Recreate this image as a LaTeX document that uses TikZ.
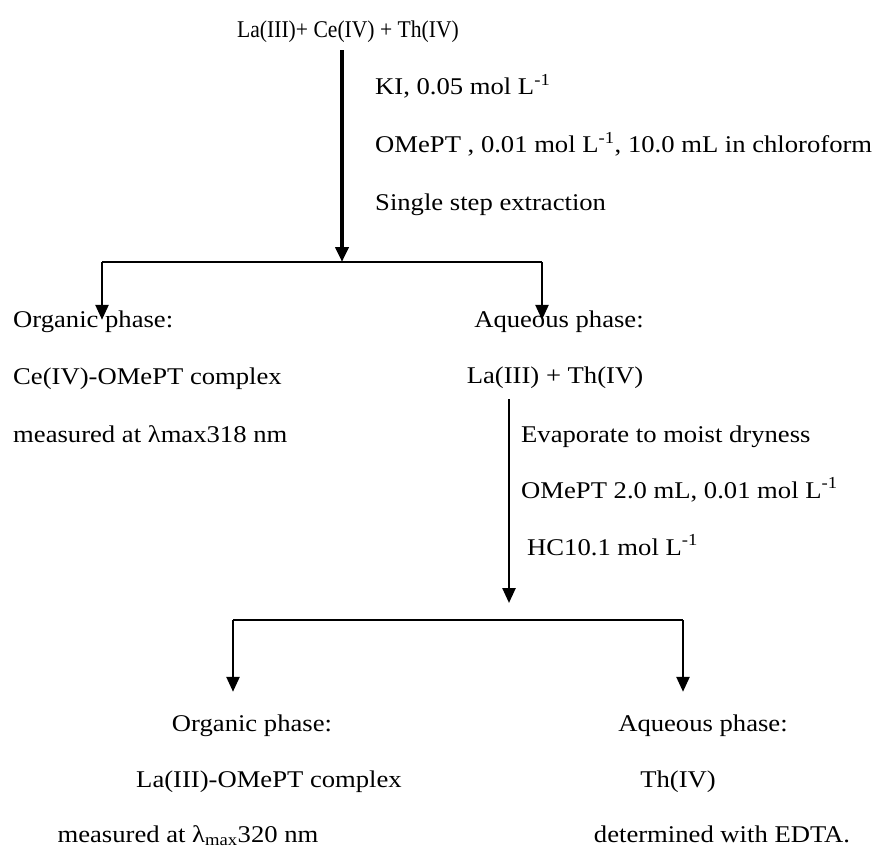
\documentclass[tikz,border=0pt]{standalone}
\usepackage{fontspec}
\setmainfont[FakeStretch=1.11]{Liberation Serif}
\newfontfamily\titlefont[FakeStretch=0.9]{Liberation Serif}
\usetikzlibrary{positioning, arrows.meta}
\tikzstyle{txt} = [inner sep=0pt, text height=0.7em, text depth=0.2em, anchor=base]
\tikzstyle{lt} = [txt, anchor=base west]
\tikzstyle{flow} = [-{Triangle[width=13pt, length=15pt]}, line width=2.5pt]
\tikzstyle{bar} = [line width=2pt]

\begin{document}
\begin{tikzpicture}[x=1pt, y=-1pt, font=\fontsize{24}{28}\selectfont]
    \useasboundingbox (0,0) rectangle (872,848);

    \node[txt, font=\titlefont\fontsize{24}{28}\selectfont] (mix) at (348,38) {La(III)+ Ce(IV) + Th(IV)};
    \node[lt] (ki) at (375,95) {KI, 0.05 mol L\textsuperscript{-1}};
    \node[lt] (omept) at (375,153) {OMePT , 0.01 mol L\textsuperscript{-1}, 10.0 mL in chloroform};
    \node[lt] (single) at (375,210) {Single step extraction};

    \node[lt] (orgA) at (13,327) {Organic phase:};
    \node[lt] (ceOm) at (13,384) {Ce(IV)-OMePT complex};
    \node[lt] (measA) at (13,442) {measured at λmax318 nm};
    \node[txt] (aqA) at (559,327) {Aqueous phase:};
    \node[txt] (laTh) at (555,383) {La(III) + Th(IV)};

    \node[lt] (evap) at (521,442) {Evaporate to moist dryness};
    \node[lt] (omept2) at (521,498) {OMePT 2.0 mL, 0.01 mol L\textsuperscript{-1}};
    \node[lt] (hcl) at (527,555) {HC10.1 mol L\textsuperscript{-1}};

    \node[txt] (orgB) at (252,731) {Organic phase:};
    \node[txt] (laOm) at (269,787) {La(III)-OMePT complex};
    \node[txt] (measB) at (188,842) {measured at λ\textsubscript{max}320 nm};
    \node[txt] (aqB) at (703,731) {Aqueous phase:};
    \node[txt] (th) at (678,787) {Th(IV)};
    \node[txt] (edta) at (722,842) {determined with EDTA.};

    \coordinate (s1) at (342,262);
    \coordinate (s1l) at (102,262);
    \coordinate (s1r) at (542,262);
    \coordinate (s2) at (509,603);
    \coordinate (s3l) at (233,620);
    \coordinate (s3r) at (683,620);

    % first extraction
    \draw[flow, line width=4pt, shorten <=10pt] (mix.south -| s1) -- (s1);
    \draw[bar] (s1l) -- (s1r);
    \draw[flow] (s1l) -- (s1l |- orgA.north);
    \draw[flow] (s1r) -- (s1r |- aqA.north);

    % second extraction
    \draw[flow, shorten <=14pt] (laTh.south -| s2) -- (s2);
    \draw[bar] (s3l) -- (s3r);
    \draw[flow, shorten >=32pt] (s3l) -- (s3l |- orgB.north);
    \draw[flow, shorten >=32pt] (s3r) -- (s3r |- aqB.north);
\end{tikzpicture}
\end{document}
